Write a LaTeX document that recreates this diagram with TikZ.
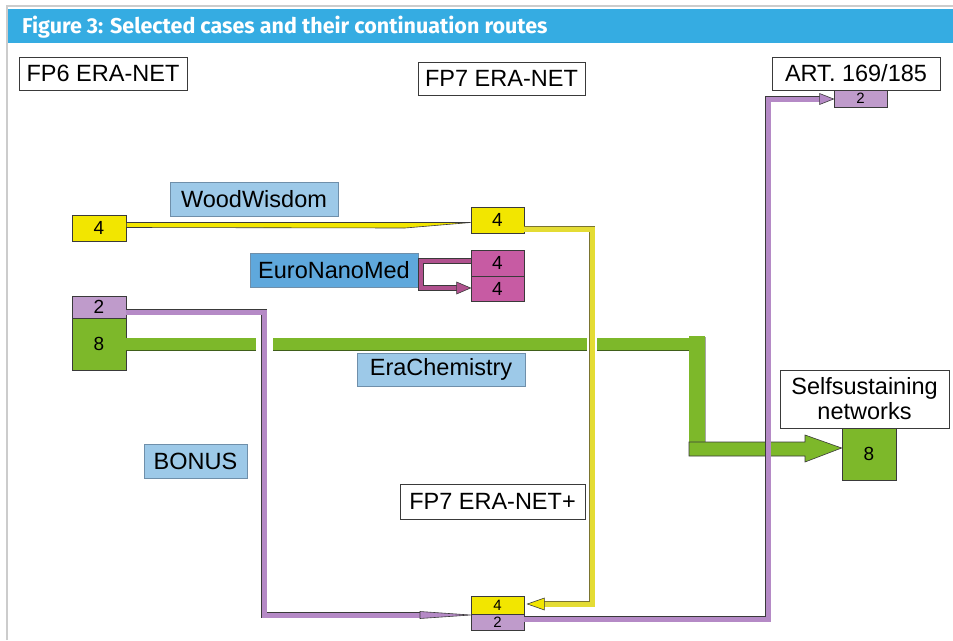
\documentclass[tikz,border=0pt]{standalone}
\usepackage{fontspec}
\setmainfont{Liberation Sans}
\newfontfamily\titlefont{Fira Sans}
\usetikzlibrary{calc}
\definecolor{titleblue}{HTML}{35ACE2}
\definecolor{lblblue}{HTML}{9DC9E8}
\definecolor{lbldark}{HTML}{5FA8DC}
\definecolor{lbledge}{HTML}{6F8FAA}
\definecolor{ylw}{HTML}{F2E600}
\definecolor{ylwline}{HTML}{E4DC34}
\definecolor{ylwedge}{HTML}{7A7430}
\definecolor{grn}{HTML}{7DB82A}
\definecolor{grndark}{HTML}{3F5E1A}
\definecolor{prp}{HTML}{BF9BCB}
\definecolor{prpline}{HTML}{B58AC6}
\definecolor{mag}{HTML}{C75BA3}
\definecolor{magline}{HTML}{B0518E}
\definecolor{edge}{HTML}{3A3A3A}
\tikzset{
  wbox/.style={draw=edge, line width=0.8pt, fill=white, inner sep=0pt, font=\fontsize{23.5}{26}\selectfont, align=center},
  lbox/.style={draw=lbledge, line width=0.8pt, fill=lblblue, inner sep=0pt, font=\fontsize{23.5}{26}\selectfont},
  numbox/.style={draw=edge, line width=0.8pt, inner sep=0pt, font=\fontsize{19}{20}\selectfont},
  smallnum/.style={font=\fontsize{15}{15}\selectfont},
  pconn/.style={draw=edge, line width=0.8pt, double=prpline, double distance=5pt, line join=miter},
  yconn/.style={draw=ylwedge, line width=0.8pt, double=ylwline, double distance=5pt, line join=miter},
  mconn/.style={draw=edge, line width=0.7pt, double=magline, double distance=4.5pt, line join=miter},
  tipshape/.style={draw=edge, line width=0.6pt, line join=miter},
}
\begin{document}
\begin{tikzpicture}[x=1pt,y=-1pt]
\useasboundingbox (0,0) rectangle (953,640);
\fill[white] (0,0) rectangle (953,640);
% frame and title bar
\draw[black!20, line width=2pt] (7,640) -- (7,6) -- (953,6);
\fill[titleblue] (8,9) rectangle (953,43);
\node[anchor=west, text=white, font=\titlefont\bfseries\fontsize{21.5}{23}\selectfont, inner sep=0pt] (title) at (22,27) {Figure 3: Selected cases and their continuation routes};

% white header boxes
\node[wbox, minimum width=168pt, minimum height=33pt] (fp6) at (103,73.5) {FP6 ERA-NET};
\node[wbox, minimum width=167pt, minimum height=33pt] (fp7) at (501.5,78.5) {FP7 ERA-NET};
\node[wbox, minimum width=168pt, minimum height=33pt] (art) at (856,73.5) {ART. 169/185};
\node[wbox, minimum width=169pt, minimum height=58pt, font=\fontsize{23.5}{25}\selectfont] (self) at (864.5,399) {Selfsustaining\\networks};
\node[wbox, minimum width=185pt, minimum height=35pt] (fp7p) at (492.5,501.5) {FP7 ERA-NET+};

% blue labels
\node[lbox, minimum width=168pt, minimum height=34pt] (ww) at (254,199) {WoodWisdom};
\node[lbox, fill=lbldark, minimum width=168pt, minimum height=34pt] (enm) at (334,270) {EuroNanoMed};
\node[lbox, minimum width=168pt, minimum height=33pt] (ec) at (441,369.5) {EraChemistry};
\node[lbox, minimum width=103pt, minimum height=34pt] (bonus) at (195.5,461) {BONUS};

% number boxes
\node[numbox, fill=ylw, minimum width=54pt, minimum height=26pt] (y4L) at (99,228) {4};
\node[numbox, fill=ylw, minimum width=53pt, minimum height=26pt] (y4M) at (497.5,220) {4};
\node[numbox, fill=mag, minimum width=53pt, minimum height=26pt] (m4a) at (497.5,263) {4};
\node[numbox, fill=mag, minimum width=53pt, minimum height=25pt] (m4b) at (497.5,288.5) {4};
\node[numbox, fill=prp, minimum width=54pt, minimum height=22pt] (p2L) at (99,307) {2};
\node[numbox, fill=grn, minimum width=54pt, minimum height=52pt] (g8L) at (99,344) {8};
\node[numbox, smallnum, fill=prp, minimum width=53pt, minimum height=17pt] (p2T) at (860.5,98.5) {2};
\node[numbox, fill=grn, minimum width=54pt, minimum height=52pt] (g8R) at (869,454) {8};
\node[numbox, smallnum, fill=ylw, minimum width=53pt, minimum height=18pt] (y4B) at (497.5,605) {4};
\node[numbox, smallnum, fill=prp, minimum width=53pt, minimum height=16pt] (p2B) at (497.5,622) {2};

% ---- green route (EraChemistry)
\fill[grn] ($(g8L.east)+(0,-6)$) rectangle (256,350);
\fill[grn] (273,338) rectangle (587,350);
\fill[grn] (597,338) rectangle (705,350);
\draw[grndark, line width=1pt] ($(g8L.east)+(0,6)$) -- (256,350) (273,350) -- (587,350) (597,350) -- (689,350);
\fill[grn] (689,336) rectangle (705,450);
\draw[black!35, line width=1pt] (705.5,337) -- (705.5,443);
\coordinate (gtip) at ($(g8R.west)+(0,-6)$);
\filldraw[fill=grn, tipshape] (689,442) -- (805,442) -- (805,435) -- (gtip) -- (805,462) -- (805,456) -- (689,456) -- cycle;

% ---- yellow route WoodWisdom FP6 -> FP7
\filldraw[fill=ylw, tipshape] ($(y4L.east)+(0,-5.5)$) -- (405,222.5) -- ($(y4M.west)+(0,2.5)$) -- (405,228) -- ($(y4L.east)+(0,-0.5)$) -- cycle;

% ---- yellow route FP7 -> FP7 ERA-NET+
\coordinate (yc1) at (592,229);
\coordinate (yc2) at (592,604);
\coordinate (yend) at ($(y4B.east)+(18,-1)$);
\draw[yconn] ($(y4M.east)+(0,9)$) -- (yc1) -- (yc2) -- (yend);
\filldraw[fill=ylw, tipshape] ($(y4B.east)+(3,-1)$) -- ++(17,-6) -- ++(0,12) -- cycle;

% ---- magenta route EuroNanoMed
\coordinate (mc1) at (421,261);
\coordinate (mc2) at (421,288);
\coordinate (mend) at (459,288);
\draw[mconn] ($(m4a.west)+(0,-2)$) -- (mc1) -- (mc2) -- (mend);
\filldraw[fill=magline, tipshape] ($(m4b.west)+(0,-0.5)$) -- ++(-14,-6) -- ++(0,12) -- cycle;

% ---- purple route BONUS
\coordinate (pc1) at (264,312);
\coordinate (pc2) at (264,615);
\coordinate (pc3) at (420,615);
\draw[pconn] ($(p2L.east)+(0,5)$) -- (pc1) -- (pc2) -- (pc3);
\filldraw[fill=prpline, tipshape] (420,611.5) -- ($(p2B.west)+(0,-7)$) -- (420,618.5) -- cycle;

% ---- purple route to ART. 169/185
\coordinate (qc1) at (768,619);
\coordinate (qc2) at (768,99);
\coordinate (qend) at (821,99);
\draw[pconn] ($(p2B.east)+(0,-3)$) -- (qc1) -- (qc2) -- (qend);
\filldraw[fill=prpline, tipshape] ($(p2T.west)+(0,0.5)$) -- ++(-14,-5.5) -- ++(0,11) -- cycle;
\end{tikzpicture}
\end{document}
